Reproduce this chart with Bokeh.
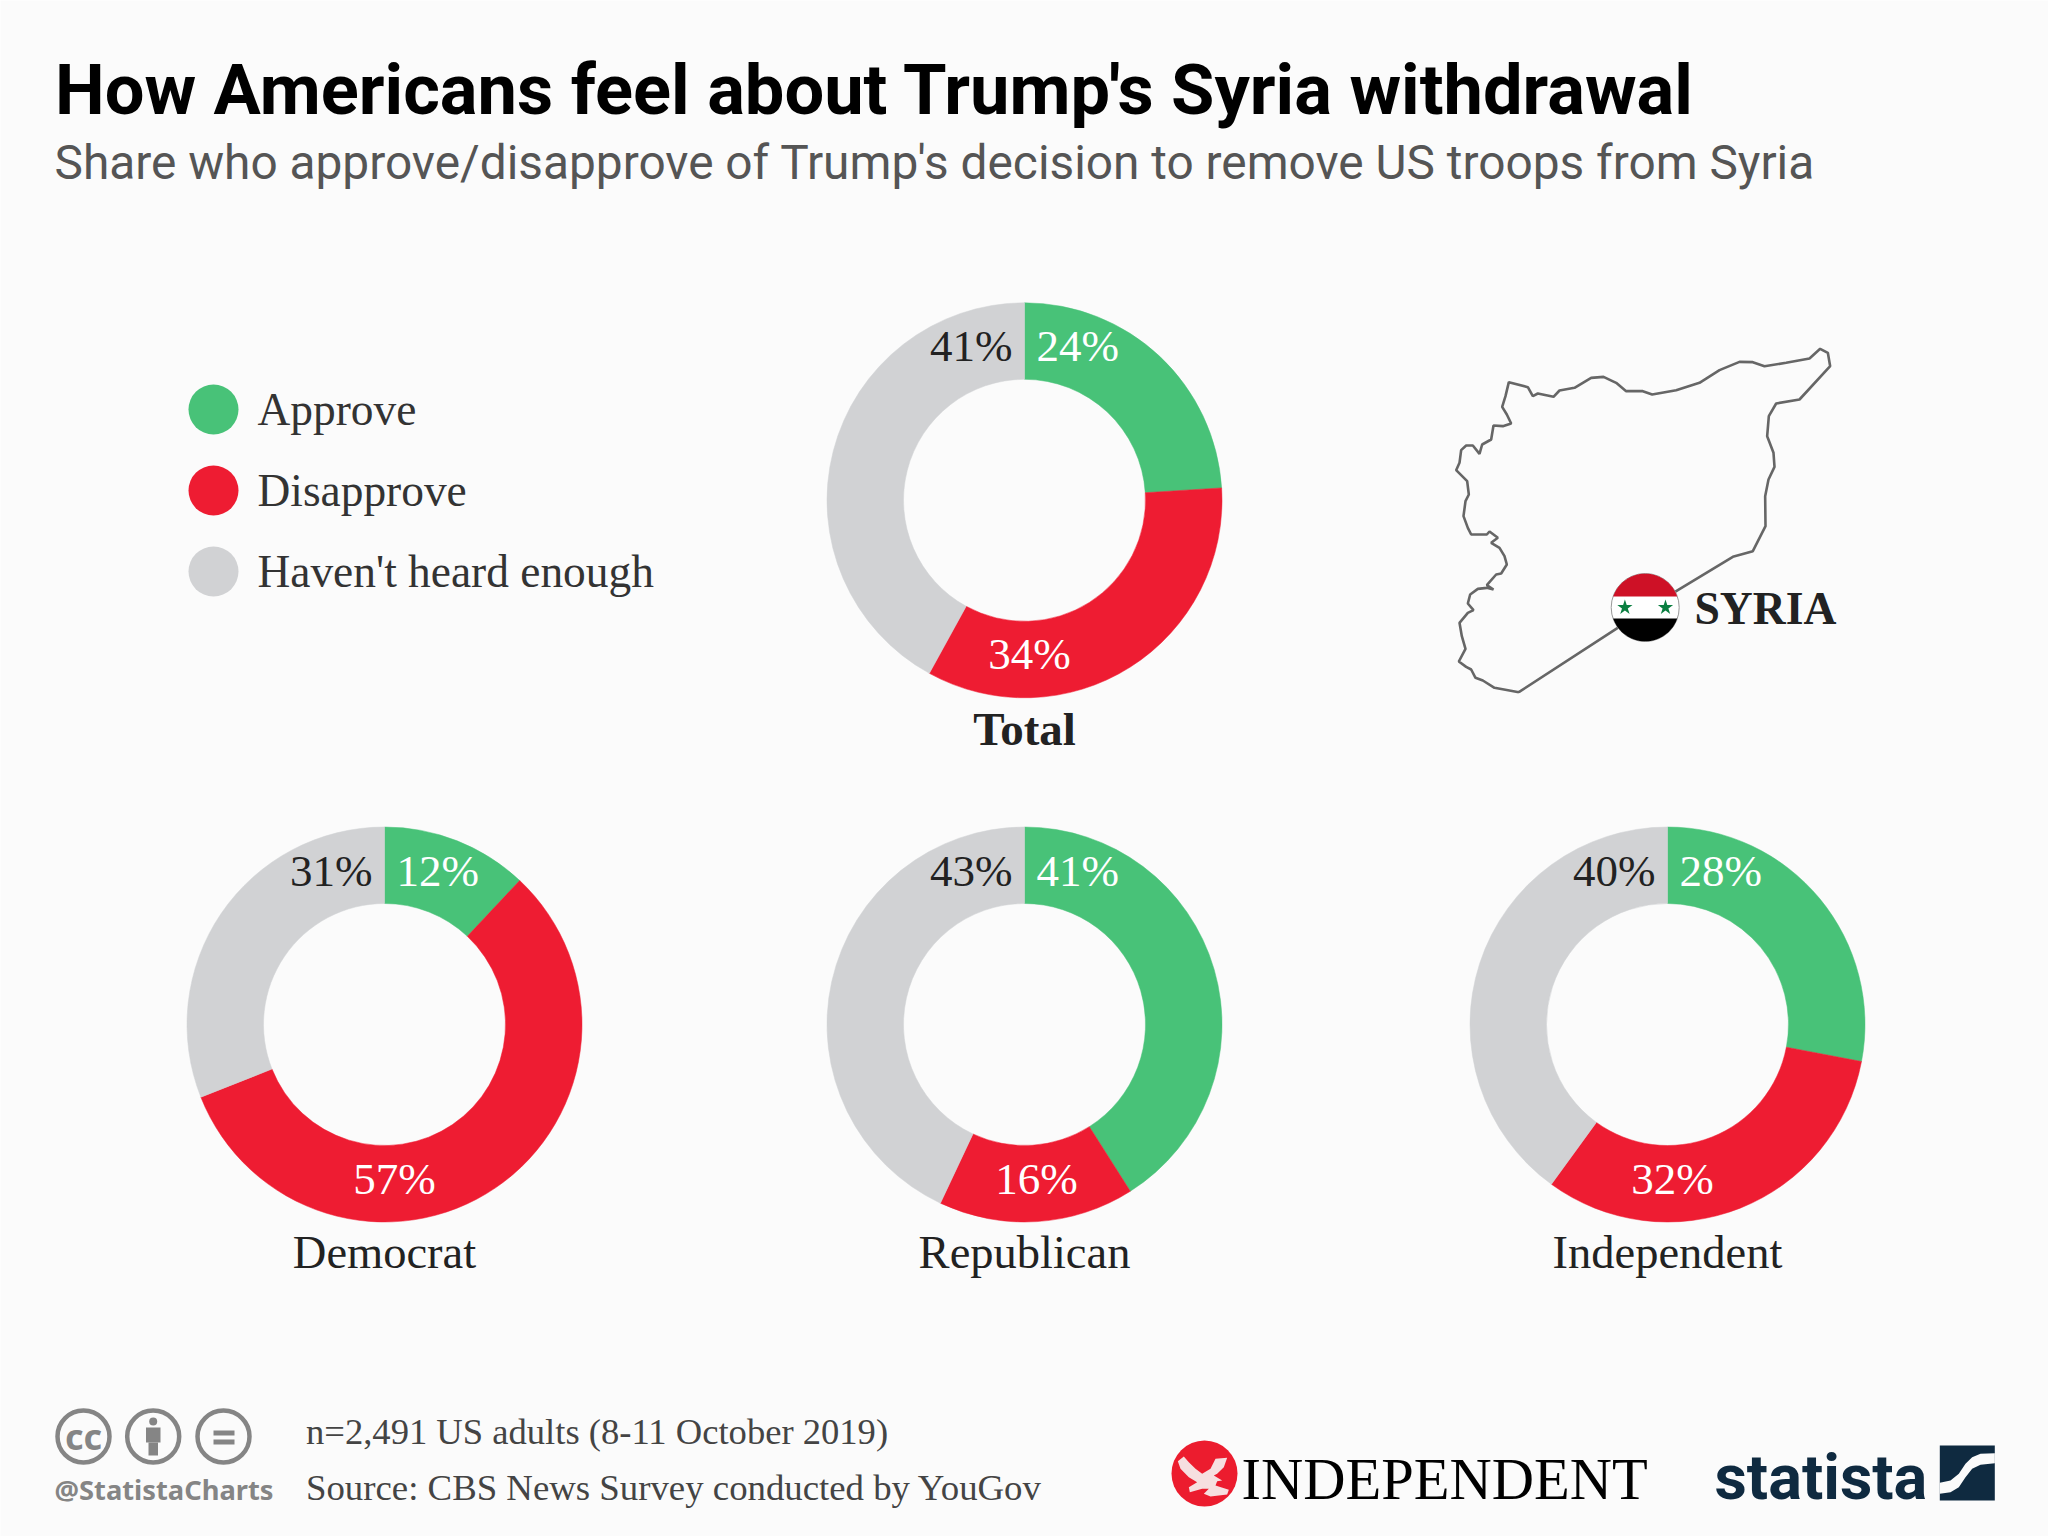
import numpy as np
from bokeh.plotting import figure
from bokeh.models import Range1d
from bokeh.core.properties import value
from bokeh.embed import file_html
from bokeh.resources import INLINE

# ---- data ----
groups = ["Total", "Democrat", "Republican", "Independent"]
approve = [24, 12, 41, 28]
disapprove = [34, 57, 16, 32]
not_heard = [41, 31, 43, 40]
legend_labels = ["Approve", "Disapprove", "Haven't heard enough"]
title = "How Americans feel about Trump's Syria withdrawal"
subtitle = "Share who approve/disapprove of Trump's decision to remove US troops from Syria"
note = "n=2,491 US adults (8-11 October 2019)"
source = "Source: CBS News Survey conducted by YouGov"

GREEN, RED, GREY = "#48c278", "#ee1c32", "#d1d2d4"
BG = "#fbfbfb"
INK = "#222222"
SERIF = "Liberation Serif"

centres = [(1024, 499.8), (384, 1024), (1024, 1024), (1667, 1024)]
red_dx = [5, 10, 12, 5]

# Map outline, traced in the 3x crop's coordinates
map_x = [358,285,250,228,215,200,178,198,187,180,205,222,205,212,235,262,282,262,290,305,322,315,300,275,295,270,262,215,205,192,198,208,203,170,180,185,200,220,240,248,275,282,310,335,322,308,318,328,385,400,415,462,480,525,575,612,650,680,730,758,830,900,960,1020,1060,1095,1160,1230,1262,1285,1292,1200,1130,1108,1103,1122,1125,1107,1097,1098,1060,1000,835,650,358]
map_y = [1118,1105,1083,1075,1050,1042,1026,988,950,910,880,872,852,825,808,805,810,797,765,762,735,710,685,670,655,636,645,645,625,590,545,525,485,452,430,392,378,378,403,375,360,318,320,312,285,262,230,188,203,230,222,232,213,205,175,172,190,215,215,225,212,190,152,127,128,140,130,117,88,100,140,240,252,290,350,400,442,480,530,620,695,712,812,928,1118]
eagle_x = [52,70,85,105,125,150,165,200,190,170,160,185,170,165,205,200,150,130,145,125,88,85,110,85,60]
eagle_y = [92,78,95,115,130,115,85,82,110,130,135,150,152,165,178,192,198,190,175,175,185,170,155,140,115]
swoosh_x = [28,60,85,105,125,150,193]
swoosh_top = [142,135,115,85,65,55,53]
swoosh_bot = [175,170,155,125,100,88,83]

p = figure(width=2048, height=1536, x_range=Range1d(0, 2048), y_range=Range1d(0, 1536),
           toolbar_location=None, output_backend="svg", min_border=0,
           x_axis_location=None, y_axis_location=None,
           background_fill_color=BG, border_fill_color=BG, outline_line_color=None)
p.grid.visible = False


def Y(v):
    return 1536 - np.asarray(v, dtype=float)


def txt(x, y, s, size, color=INK, font=SERIF, style="normal", align="left", base="alphabetic"):
    # y is the text's baseline unless base == "middle"
    ym = y - 0.33 * size if base == "alphabetic" else y
    p.text([x], [float(Y(ym))], text=[s], text_font=value(font), text_font_size=f"{size}px",
           text_color=color, text_font_style=style, text_align=align, text_baseline="middle")


# Title block
txt(54.5, 113, title, 70.4, "#000000", "Roboto", "bold")
txt(54, 178, subtitle, 47.8, "#555555", "Roboto")

# Donuts
ROUT, RIN = 197.5, 121
for i, name in enumerate(groups):
    cx, cy = centres[i]
    a0 = approve[i] / 100
    a1 = (approve[i] + disapprove[i]) / 100
    bounds = [0, a0, a1, 1]
    for k, col in enumerate([GREEN, RED, GREY]):
        p.annular_wedge([cx], [float(Y(cy))], inner_radius=RIN, outer_radius=ROUT,
                        start_angle=np.pi / 2 - bounds[k] * 2 * np.pi,
                        end_angle=np.pi / 2 - bounds[k + 1] * 2 * np.pi,
                        direction="clock", fill_color=col, line_color=col, line_width=0.5)
    txt(cx + 12, cy - 154, f"{approve[i]}%", 45, "#ffffff", align="left", base="middle")
    txt(cx - 12, cy - 154, f"{not_heard[i]}%", 45, INK, align="right", base="middle")
    txt(cx + red_dx[i], cy + 154, f"{disapprove[i]}%", 45, "#ffffff", align="center", base="middle")
    if name == "Total":
        txt(cx, 744, name, 47, INK, style="bold", align="center")
    else:
        txt(cx, 1267, name, 46.5, INK, align="center")

# Legend
for lab, col, ly in zip(legend_labels, [GREEN, RED, GREY], [409, 490, 571]):
    p.circle([213], [float(Y(ly))], radius=25, fill_color=col, line_color=None)
    txt(257, ly + 15, lab, 45.4, "#333333")

# Syria map
mx = 1399 + np.array(map_x) / 3
my = 319 + np.array(map_y) / 3
p.line(mx, Y(my), line_color="#666666", line_width=2.6)

# Flag
fx, fy, fr = 1644.7, 607, 34.0
p.circle([fx], [float(Y(fy))], radius=fr, fill_color="#ffffff", line_color="#999999", line_width=1)
t = np.linspace(0, 1, 40)
h = 11.0
th = np.arccos(h / fr)
ang = -th + 2 * th * t
p.patch(fx + fr * np.sin(ang) * 0.995, Y(fy - fr * np.cos(ang) * 0.995), fill_color="#ce1126", line_color=None)
p.patch(fx + fr * np.sin(ang) * 0.995, Y(fy + fr * np.cos(ang) * 0.995), fill_color="#000000", line_color=None)
p.scatter([fx - 20.3, fx + 20.3], [float(Y(fy))] * 2, marker="star", size=16, fill_color="#0b7f41", line_color=None)
txt(1694, 623, "SYRIA", 45.6, INK, style="bold")

# Licence icons
for ix in [83, 152.7, 223]:
    p.circle([ix], [float(Y(1436))], radius=26, fill_color=None, line_color="#858585", line_width=4.5)
txt(83, 1436, "cc", 36, "#858585", "Noto Sans", "bold", "center", "middle")
p.circle([152.7], [float(Y(1421))], radius=4, fill_color="#858585", line_color=None)
p.quad(left=[145.5], right=[160], top=[float(Y(1427))], bottom=[float(Y(1442))], fill_color="#858585", line_color=None)
p.quad(left=[148], right=[157.5], top=[float(Y(1442))], bottom=[float(Y(1455))], fill_color="#858585", line_color=None)
p.quad(left=[213, 213], right=[234, 234], top=[float(Y(1430)), float(Y(1439))],
       bottom=[float(Y(1435)), float(Y(1444))], fill_color="#858585", line_color=None)
txt(54, 1498, "@StatistaCharts", 27.3, "#858585", "Noto Sans", "bold")

# Footer texts
txt(305.5, 1443, note, 36.6, "#444444")
txt(305.5, 1499, source, 36.8, "#444444")

# Independent logo
p.circle([1204], [float(Y(1473))], radius=33, fill_color="#ec1c2e", line_color=None)
p.patch(1160 + np.array(eagle_x) / 3, Y(1430 + np.array(eagle_y) / 3), fill_color="#f6dfe0", line_color=None)
txt(1241, 1498, "INDEPENDENT", 58.5, "#000000")

# Statista logo
txt(1714, 1498, "statista", 63, "#0f2a40", "Roboto", "bold")
p.quad(left=[1939.3], right=[1994.3], top=[float(Y(1445))], bottom=[float(Y(1500))], fill_color="#0f2a40", line_color=None)
sx = 1930 + np.array(swoosh_x + swoosh_x[::-1]) / 3
sy = 1435 + np.array(swoosh_top + swoosh_bot[::-1]) / 3
p.patch(sx, Y(sy), fill_color=BG, line_color=None)

open("out.html", "w").write(file_html(p, INLINE))
